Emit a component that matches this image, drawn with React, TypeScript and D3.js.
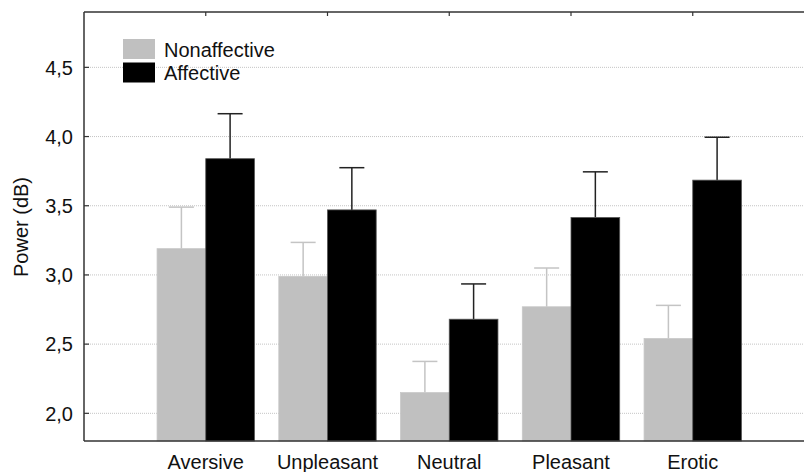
import React from 'react';
import * as d3 from 'd3';

// categories and series
const categories = ['Aversive', 'Unpleasant', 'Neutral', 'Pleasant', 'Erotic'];
const nonaffective = [3.19, 2.99, 2.15, 2.77, 2.54];
const nonaffectiveErr = [0.3, 0.245, 0.225, 0.28, 0.24];
const affective = [3.84, 3.47, 2.68, 3.415, 3.685];
const affectiveErr = [0.325, 0.305, 0.255, 0.33, 0.31];
const yTicks = [2.0, 2.5, 3.0, 3.5, 4.0, 4.5];
const seriesNames = ['Nonaffective', 'Affective'];

const W = 804;
const H = 472;
const left = 84;
const top = 12;
const bottom = 441;
const font = '"Liberation Sans", Arial, sans-serif';

const App = () => {
    // category centers sit at 1..5 on a 0..6 axis, the right end runs off the picture
    const x = d3.scaleLinear().domain([0, categories.length + 1]).range([left, 814.5]);
    const y = d3.scaleLinear().domain([1.8, 4.9]).range([bottom, top]);
    const step = x(1) - x(0);
    const bw = step * 0.4;
    const cap = 12.5;
    const fmt = (v: number) => d3.format('.1f')(v).replace('.', ',');

    return (
        <svg width={W} height={H} style={{ position: 'absolute', left: 0, top: 0, background: '#fff' }} fontFamily={font}>
            {/* grid */}
            {yTicks.map(t => (
                <g key={t}>
                    <line x1={left} x2={W} y1={y(t)} y2={y(t)} stroke="#c4c4c4" strokeWidth={1} strokeDasharray="1,1" />
                    <line x1={left} x2={left + 5} y1={y(t)} y2={y(t)} stroke="#333" strokeWidth={1.2} />
                    <text x={73} y={y(t)} dy="0.36em" textAnchor="end" fontSize={20} fill="#111">{fmt(t)}</text>
                </g>
            ))}

            {/* bars */}
            {categories.map((c, i) => {
                const cx = x(i + 1);
                return (
                    <g key={c}>
                        <line x1={cx - bw / 2} x2={cx - bw / 2} y1={y(nonaffective[i])} y2={y(nonaffective[i] + nonaffectiveErr[i])} stroke="#c4c4c4" strokeWidth={1.5} />
                        <line x1={cx - bw / 2 - cap} x2={cx - bw / 2 + cap} y1={y(nonaffective[i] + nonaffectiveErr[i])} y2={y(nonaffective[i] + nonaffectiveErr[i])} stroke="#c4c4c4" strokeWidth={1.5} />
                        <line x1={cx + bw / 2} x2={cx + bw / 2} y1={y(affective[i])} y2={y(affective[i] + affectiveErr[i])} stroke="#222" strokeWidth={1.5} />
                        <line x1={cx + bw / 2 - cap} x2={cx + bw / 2 + cap} y1={y(affective[i] + affectiveErr[i])} y2={y(affective[i] + affectiveErr[i])} stroke="#222" strokeWidth={1.5} />
                        <rect x={cx - bw} y={y(nonaffective[i])} width={bw} height={bottom - y(nonaffective[i])} fill="#c0c0c0" stroke="#c8c8c8" strokeWidth={0.8} />
                        <rect x={cx} y={y(affective[i])} width={bw} height={bottom - y(affective[i])} fill="#000" stroke="#555" strokeWidth={0.8} />
                        <line x1={cx} x2={cx} y1={top} y2={top + 4} stroke="#333" strokeWidth={1.2} />
                        <text x={cx} y={469} textAnchor="middle" fontSize={20} fill="#111">{c}</text>
                    </g>
                );
            })}

            {/* frame */}
            <line x1={left} x2={W} y1={top} y2={top} stroke="#333" strokeWidth={1.5} />
            <line x1={left} x2={W} y1={bottom} y2={bottom} stroke="#333" strokeWidth={1.5} />
            <line x1={left} x2={left} y1={top} y2={bottom} stroke="#333" strokeWidth={1.5} />

            <text transform={`translate(28,${227}) rotate(-90)`} textAnchor="middle" fontSize={20} fill="#111">Power (dB)</text>

            {/* legend */}
            {seriesNames.map((s, i) => (
                <g key={s}>
                    <rect x={123} y={39 + i * 23.5} width={32} height={20} fill={i === 0 ? '#c0c0c0' : '#000'} />
                    <text x={164} y={56.5 + i * 23.5} fontSize={20} fill="#111">{s}</text>
                </g>
            ))}
        </svg>
    );
};

export default App;
